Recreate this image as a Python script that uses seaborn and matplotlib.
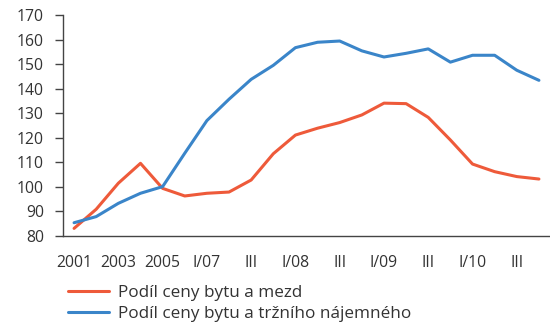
import numpy as np
import pandas as pd
import matplotlib
matplotlib.use("Agg")
import matplotlib.pyplot as plt
import seaborn as sns

# Periods: annual 2001-2006, then quarterly 2007-2010
periods = ["2001", "2002", "2003", "2004", "2005", "2006",
           "I/07", "II/07", "III/07", "IV/07",
           "I/08", "II/08", "III/08", "IV/08",
           "I/09", "II/09", "III/09", "IV/09",
           "I/10", "II/10", "III/10", "IV/10"]

price_to_wages = [83.1, 90.9, 101.5, 109.6, 99.4, 96.3, 97.4, 97.9, 102.8, 113.5,
                  121.1, 123.9, 126.2, 129.3, 134.1, 133.9, 128.3, 119.1,
                  109.3, 106.2, 104.2, 103.2]

price_to_rent = [85.4, 87.9, 93.3, 97.4, 100.1, 113.7, 127.0, 135.7, 143.8, 149.5,
                 156.7, 158.9, 159.4, 155.4, 152.9, 154.4, 156.2, 150.8,
                 153.6, 153.6, 147.5, 143.4]

series_names = ["Podíl ceny bytu a mezd", "Podíl ceny bytu a tržního nájemného"]
series_colors = ["#EE5A3A", "#3A85C9"]

# every second period is labelled; quarter III shown as a bare numeral
tick_labels = ["2001", "2003", "2005", "I/07", "III", "I/08", "III",
               "I/09", "III", "I/10", "III"]

y_ticks = list(range(80, 171, 10))

df = pd.DataFrame({
    "idx": list(range(len(periods))) * 2,
    "value": price_to_wages + price_to_rent,
    "series": [series_names[0]] * len(periods) + [series_names[1]] * len(periods),
})

sns.set_style("white")
plt.rcParams["font.family"] = ["Open Sans", "DejaVu Sans"]
text_color = "#333333"
axis_color = "#444444"

fig = plt.figure(figsize=(5.5, 3.22), dpi=100)
ax = fig.add_axes([63 / 550, 1 - 236 / 322, (550 - 63) / 550, (236 - 15) / 322])

sns.lineplot(data=df, x="idx", y="value", hue="series", hue_order=series_names,
             palette=series_colors, linewidth=2.2, ax=ax, legend=False)

ax.set_xlim(-0.5, len(periods) - 0.5)
ax.set_ylim(80, 170)
ax.set_yticks(y_ticks)
ax.set_xticks(range(0, len(periods), 2))
ax.set_xticklabels(tick_labels)
ax.set_xlabel("")
ax.set_ylabel("")

for side in ["top", "right"]:
    ax.spines[side].set_visible(False)
for side in ["left", "bottom"]:
    ax.spines[side].set_color(axis_color)
    ax.spines[side].set_linewidth(1.0)

ax.tick_params(axis="y", which="both", left=True, length=5.8, width=1.0,
               color=axis_color, labelsize=11.3, labelcolor=text_color, pad=8)
ax.tick_params(axis="x", which="both", bottom=False, labelsize=11.3,
               labelcolor=text_color, pad=10)

handles = [plt.Line2D([], [], color=c, linewidth=2.2) for c in series_colors]
fig.legend(handles, series_names, loc="upper left",
           bbox_to_anchor=(68 / 550, 1 - 285 / 322),
           frameon=False, fontsize=12.3, labelcolor=text_color, handlelength=2.4,
           handletextpad=0.55, labelspacing=0.3, borderaxespad=0, borderpad=0)

fig.savefig("out.png", dpi=100)
